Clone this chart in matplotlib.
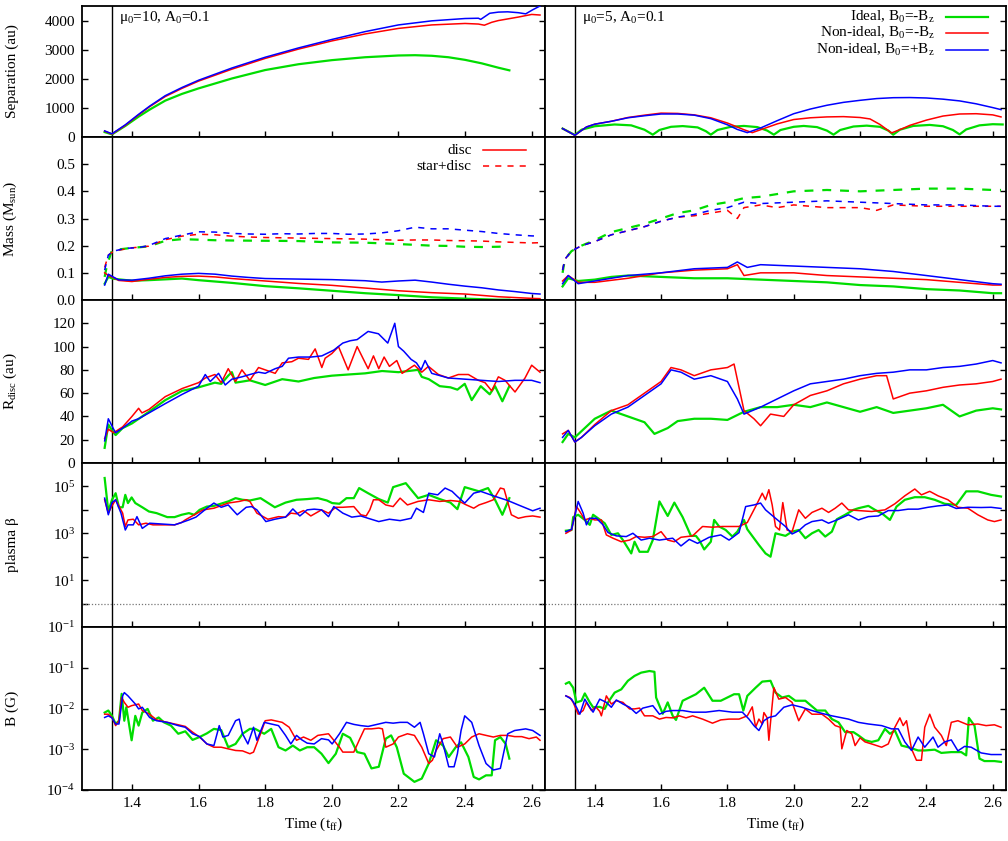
import numpy as np
import matplotlib
matplotlib.use("Agg")
import matplotlib.pyplot as plt
from matplotlib.ticker import FixedLocator, FuncFormatter, NullLocator

plt.rcParams['font.family'] = ['Liberation Serif', 'DejaVu Serif']
plt.rcParams['mathtext.fontset'] = 'custom'
plt.rcParams['mathtext.rm'] = 'Liberation Serif'
plt.rcParams['mathtext.it'] = 'Liberation Serif:italic'
plt.rcParams['mathtext.default'] = 'rm'
plt.rcParams['font.size'] = 11

GREEN, RED, BLUE = '#00dd00', '#ff0000', '#0000ff'

# ---------------------------------------------------------------- separation
# mu0=10 (left column)
t_sepL_i = [1.318, 1.340, 1.38, 1.42, 1.453, 1.5, 1.55, 1.6, 1.7, 1.8, 1.9, 2.0, 2.1,
            2.2, 2.25, 2.3, 2.35, 2.4, 2.45, 2.5, 2.533]
sepL_i = [170, 90, 380, 700, 940, 1250, 1480, 1670, 2010, 2300, 2500, 2640, 2740,
          2800, 2810, 2790, 2740, 2650, 2530, 2380, 2290]
t_sepL_n = [1.318, 1.340, 1.38, 1.42, 1.453, 1.5, 1.55, 1.6, 1.7, 1.8, 1.9, 2.0, 2.1,
            2.2, 2.3, 2.4, 2.44, 2.458, 2.48, 2.5, 2.53, 2.56, 2.6, 2.625]
sepL_n = [200, 100, 400, 760, 1040, 1390, 1670, 1920, 2330, 2700, 3020, 3300, 3540,
          3730, 3850, 3900, 3880, 3840, 3940, 4000, 4060, 4120, 4210, 4190]
t_sepL_p = [1.318, 1.340, 1.38, 1.42, 1.453, 1.5, 1.55, 1.6, 1.7, 1.8, 1.9, 2.0, 2.1,
            2.2, 2.3, 2.4, 2.44, 2.447, 2.474, 2.5, 2.528, 2.56, 2.582, 2.603, 2.625]
sepL_p = [210, 110, 420, 780, 1060, 1420, 1700, 1950, 2370, 2740, 3060, 3350, 3620,
          3850, 3990, 4070, 4080, 4040, 4250, 4290, 4300, 4270, 4230, 4370, 4500]

# mu0=5 (right column)
t_sepR_i = [1.303, 1.34, 1.36, 1.4, 1.46, 1.51, 1.55, 1.575, 1.595, 1.63, 1.665, 1.71,
            1.735, 1.75, 1.77, 1.81, 1.85, 1.89, 1.92, 1.94, 1.96, 2.0, 2.03, 2.07,
            2.1, 2.12, 2.14, 2.18, 2.22, 2.26, 2.285, 2.3, 2.32, 2.36, 2.41, 2.45,
            2.48, 2.5, 2.52, 2.56, 2.6, 2.63]
sepR_i = [290, 70, 250, 370, 430, 400, 250, 80, 240, 350, 375, 330, 200, 80, 240, 350,
          380, 340, 220, 80, 240, 350, 380, 340, 220, 80, 240, 360, 390, 350, 220, 80,
          250, 380, 415, 370, 240, 90, 260, 400, 440, 430]
t_sepR_n = [1.303, 1.34, 1.375, 1.4, 1.45, 1.5, 1.55, 1.6, 1.65, 1.7, 1.75, 1.8, 1.85,
            1.875, 1.9, 1.95, 2.0, 2.05, 2.1, 2.15, 2.2, 2.23, 2.26, 2.295, 2.33, 2.35,
            2.4, 2.45, 2.5, 2.55, 2.6, 2.625]
sepR_n = [290, 60, 345, 440, 540, 670, 750, 820, 810, 760, 660, 480, 250, 150, 250, 450,
          600, 660, 690, 700, 670, 620, 430, 140, 300, 400, 580, 720, 790, 800, 760, 690]
t_sepR_p = [1.303, 1.34, 1.375, 1.4, 1.45, 1.5, 1.55, 1.6, 1.65, 1.7, 1.75, 1.8, 1.83,
            1.86, 1.9, 1.95, 2.0, 2.05, 2.1, 2.15, 2.2, 2.25, 2.3, 2.35, 2.4, 2.45, 2.5,
            2.55, 2.6, 2.625]
sepR_p = [290, 60, 345, 440, 540, 660, 730, 790, 790, 750, 630, 420, 260, 150, 310, 560,
          800, 960, 1090, 1190, 1260, 1320, 1350, 1355, 1340, 1300, 1240, 1140, 1010, 940]

# ---------------------------------------------------------------- mass
# star+disc (dashed)
t_msdL_i = [1.318, 1.325, 1.34, 1.4, 1.45, 1.5, 1.55, 1.6, 1.65, 1.7, 1.8, 1.9, 2.0,
            2.1, 2.2, 2.3, 2.35, 2.4, 2.45, 2.5, 2.533]
msdL_i = [0.085, 0.128, 0.183, 0.192, 0.197, 0.218, 0.224, 0.222, 0.22, 0.219, 0.218,
          0.217, 0.212, 0.211, 0.206, 0.2, 0.199, 0.196, 0.195, 0.196, 0.198]
t_msdL_n = [1.318, 1.329, 1.345, 1.4, 1.45, 1.5, 1.55, 1.6, 1.65, 1.7, 1.75, 1.8, 1.85,
            1.9, 1.95, 2.0, 2.05, 2.1, 2.15, 2.2, 2.25, 2.3, 2.35, 2.4, 2.45, 2.5,
            2.55, 2.6, 2.625]
msdL_n = [0.12, 0.165, 0.18, 0.192, 0.198, 0.222, 0.235, 0.242, 0.24, 0.235, 0.232,
          0.23, 0.229, 0.228, 0.227, 0.226, 0.225, 0.224, 0.222, 0.22, 0.221, 0.221,
          0.219, 0.218, 0.217, 0.214, 0.212, 0.21, 0.211]
t_msdL_p = [1.318, 1.329, 1.345, 1.38, 1.42, 1.45, 1.5, 1.55, 1.6, 1.65, 1.7, 1.75, 1.8,
            1.85, 1.9, 1.95, 2.0, 2.05, 2.1, 2.15, 2.2, 2.25, 2.3, 2.35, 2.4, 2.45,
            2.5, 2.55, 2.6, 2.625]
msdL_p = [0.11, 0.165, 0.18, 0.19, 0.193, 0.2, 0.226, 0.239, 0.251, 0.25, 0.245, 0.243,
          0.242, 0.244, 0.243, 0.245, 0.245, 0.242, 0.243, 0.247, 0.255, 0.268, 0.262,
          0.262, 0.257, 0.252, 0.245, 0.24, 0.236, 0.235]

t_msdR_i = [1.303, 1.31, 1.33, 1.36, 1.4, 1.45, 1.5, 1.55, 1.6, 1.65, 1.7, 1.75, 1.8,
            1.85, 1.9, 1.95, 2.0, 2.1, 2.2, 2.3, 2.4, 2.5, 2.6, 2.625]
msdR_i = [0.1, 0.15, 0.18, 0.2, 0.22, 0.25, 0.265, 0.28, 0.3, 0.32, 0.33, 0.35, 0.36,
          0.375, 0.38, 0.39, 0.4, 0.405, 0.4, 0.405, 0.41, 0.41, 0.405, 0.405]
t_msdR_n = [1.303, 1.31, 1.33, 1.36, 1.4, 1.45, 1.5, 1.55, 1.6, 1.65, 1.7, 1.75, 1.8,
            1.83, 1.85, 1.9, 1.95, 2.0, 2.1, 2.2, 2.25, 2.3, 2.4, 2.5, 2.6, 2.625]
msdR_n = [0.11, 0.15, 0.18, 0.2, 0.215, 0.24, 0.255, 0.27, 0.29, 0.305, 0.31, 0.32,
          0.33, 0.3, 0.34, 0.35, 0.34, 0.35, 0.34, 0.34, 0.33, 0.35, 0.345, 0.345,
          0.345, 0.345]
t_msdR_p = [1.303, 1.31, 1.33, 1.36, 1.4, 1.45, 1.5, 1.55, 1.6, 1.65, 1.7, 1.75, 1.8,
            1.85, 1.9, 2.0, 2.1, 2.2, 2.3, 2.4, 2.5, 2.6, 2.625]
msdR_p = [0.11, 0.15, 0.18, 0.2, 0.215, 0.24, 0.255, 0.27, 0.29, 0.305, 0.315, 0.33,
          0.34, 0.36, 0.355, 0.36, 0.365, 0.36, 0.355, 0.35, 0.35, 0.345, 0.345]

# disc only (solid)
t_mdL_i = [1.318, 1.329, 1.345, 1.4, 1.45, 1.5, 1.55, 1.6, 1.7, 1.8, 1.9, 2.0, 2.1,
           2.2, 2.3, 2.4, 2.5, 2.533]
mdL_i = [0.06, 0.085, 0.078, 0.071, 0.073, 0.076, 0.079, 0.073, 0.063, 0.051, 0.043,
         0.034, 0.025, 0.018, 0.01, 0.005, 0.001, 0.001]
t_mdL_n = [1.318, 1.329, 1.345, 1.36, 1.4, 1.45, 1.5, 1.55, 1.6, 1.65, 1.7, 1.8, 1.9,
           2.0, 2.1, 2.2, 2.3, 2.4, 2.5, 2.6, 2.625]
mdL_n = [0.1, 0.09, 0.082, 0.072, 0.068, 0.076, 0.083, 0.087, 0.088, 0.085, 0.079,
         0.07, 0.061, 0.054, 0.044, 0.034, 0.027, 0.022, 0.012, 0.006, 0.005]
t_mdL_p = [1.318, 1.329, 1.345, 1.36, 1.4, 1.45, 1.5, 1.55, 1.6, 1.65, 1.7, 1.75, 1.8,
           1.9, 2.0, 2.1, 2.15, 2.2, 2.25, 2.3, 2.35, 2.4, 2.45, 2.5, 2.55, 2.6, 2.625]
mdL_p = [0.055, 0.095, 0.084, 0.074, 0.073, 0.08, 0.089, 0.095, 0.098, 0.095, 0.088,
         0.083, 0.079, 0.077, 0.075, 0.071, 0.066, 0.07, 0.073, 0.066, 0.058, 0.051,
         0.045, 0.037, 0.031, 0.024, 0.022]

t_mdR_i = [1.303, 1.32, 1.35, 1.4, 1.45, 1.5, 1.6, 1.7, 1.8, 1.9, 2.0, 2.1, 2.2, 2.3,
           2.4, 2.5, 2.6, 2.625]
mdR_i = [0.05, 0.08, 0.07, 0.075, 0.085, 0.09, 0.085, 0.08, 0.08, 0.075, 0.07, 0.065,
         0.055, 0.05, 0.04, 0.035, 0.025, 0.025]
t_mdR_n = [1.303, 1.32, 1.35, 1.4, 1.5, 1.6, 1.7, 1.8, 1.83, 1.85, 1.9, 2.0, 2.1, 2.2,
           2.3, 2.4, 2.5, 2.6, 2.625]
mdR_n = [0.07, 0.09, 0.065, 0.065, 0.08, 0.1, 0.11, 0.115, 0.13, 0.09, 0.1, 0.1, 0.09,
         0.085, 0.08, 0.075, 0.065, 0.055, 0.055]
t_mdR_p = [1.303, 1.32, 1.35, 1.4, 1.5, 1.6, 1.7, 1.8, 1.83, 1.86, 1.9, 2.0, 2.1, 2.2,
           2.3, 2.4, 2.5, 2.6, 2.625]
mdR_p = [0.06, 0.09, 0.06, 0.07, 0.09, 0.1, 0.115, 0.12, 0.14, 0.12, 0.13, 0.125, 0.12,
         0.115, 0.105, 0.09, 0.075, 0.06, 0.058]

# ---------------------------------------------------------------- disc radius
t_rdL_i = [1.318, 1.329, 1.345, 1.351, 1.372, 1.4, 1.451, 1.5, 1.551, 1.6, 1.649, 1.668,
           1.689, 1.7, 1.711, 1.754, 1.8, 1.851, 1.9, 1.947, 2.0, 2.049, 2.1, 2.151,
           2.2, 2.259, 2.27, 2.291, 2.324, 2.356, 2.377, 2.399, 2.42, 2.447, 2.474,
           2.49, 2.512, 2.533]
rdL_i = [13, 33, 26, 24, 30, 34, 44, 54, 62, 65, 69, 68, 75, 78, 69, 71, 67, 72, 70, 73,
         75, 76, 77, 79, 78, 80, 74, 72, 66, 65, 63, 68, 54, 66, 59, 66, 53, 66]
t_rdL_n = [1.318, 1.329, 1.345, 1.372, 1.4, 1.42, 1.43, 1.451, 1.5, 1.551, 1.6, 1.62,
           1.649, 1.668, 1.689, 1.711, 1.73, 1.754, 1.78, 1.8, 1.83, 1.851, 1.88, 1.9,
           1.93, 1.95, 1.97, 1.98, 2.0, 2.02, 2.049, 2.076, 2.109, 2.125, 2.141, 2.157,
           2.173, 2.195, 2.211, 2.248, 2.27, 2.29, 2.32, 2.35, 2.38, 2.41, 2.44, 2.46,
           2.48, 2.5, 2.52, 2.55, 2.58, 2.6, 2.625]
rdL_n = [21, 29, 26, 31, 40, 47, 43, 46, 57, 64, 69, 73, 76, 69, 81, 70, 80, 71, 82, 80,
         77, 86, 87, 90, 89, 98, 82, 90, 94, 100, 80, 100, 81, 92, 81, 91, 83, 88, 77,
         84, 78, 83, 76, 73, 76, 76, 71, 69, 62, 74, 71, 61, 73, 84, 78]
t_rdL_p = [1.318, 1.329, 1.345, 1.351, 1.372, 1.4, 1.42, 1.451, 1.5, 1.551, 1.6, 1.62,
           1.635, 1.66, 1.68, 1.7, 1.73, 1.754, 1.78, 1.8, 1.83, 1.851, 1.87, 1.9, 1.937,
           1.97, 2.006, 2.033, 2.055, 2.076, 2.109, 2.14, 2.168, 2.189, 2.2, 2.216,
           2.238, 2.254, 2.268, 2.28, 2.3, 2.35, 2.4, 2.45, 2.5, 2.55, 2.6, 2.625]
rdL_p = [19, 38, 29, 26, 30, 36, 38, 43, 51, 59, 66, 76, 70, 77, 67, 72, 74, 76, 78, 77,
         81, 83, 90, 91, 91, 92, 97, 103, 105, 106, 113, 111, 103, 120, 100, 96, 89, 86,
         80, 88, 77, 73, 72, 71, 70, 71, 71, 69]

t_rdR_i = [1.303, 1.32, 1.34, 1.4, 1.45, 1.5, 1.55, 1.58, 1.62, 1.65, 1.7, 1.75, 1.8,
           1.85, 1.9, 1.95, 2.0, 2.05, 2.1, 2.15, 2.2, 2.25, 2.3, 2.35, 2.4, 2.45, 2.5,
           2.55, 2.6, 2.625]
rdR_i = [18, 25, 22, 38, 45, 40, 35, 25, 30, 36, 38, 38, 37, 44, 48, 48, 50, 48, 52, 48,
         44, 48, 43, 45, 47, 50, 40, 45, 47, 46]
t_rdR_n = [1.303, 1.32, 1.34, 1.36, 1.4, 1.45, 1.5, 1.55, 1.6, 1.63, 1.66, 1.7, 1.75,
           1.8, 1.82, 1.85, 1.88, 1.9, 1.93, 1.97, 2.0, 2.05, 2.1, 2.15, 2.2, 2.25,
           2.28, 2.3, 2.35, 2.4, 2.45, 2.5, 2.55, 2.6, 2.625]
rdR_n = [25, 28, 18, 22, 33, 45, 50, 60, 70, 82, 80, 75, 80, 82, 85, 45, 38, 32, 42, 40,
         50, 58, 62, 68, 72, 75, 75, 55, 60, 62, 65, 67, 68, 70, 72]
t_rdR_p = [1.303, 1.32, 1.34, 1.36, 1.4, 1.45, 1.5, 1.55, 1.6, 1.63, 1.66, 1.7, 1.75,
           1.8, 1.83, 1.85, 1.9, 1.95, 2.0, 2.05, 2.1, 2.15, 2.2, 2.25, 2.3, 2.35, 2.4,
           2.45, 2.5, 2.55, 2.6, 2.625]
rdR_p = [22, 28, 18, 22, 32, 42, 48, 58, 68, 80, 78, 72, 75, 70, 55, 42, 48, 55, 62, 68,
         70, 72, 75, 77, 78, 80, 80, 82, 83, 85, 88, 86]

# ---------------------------------------------------------------- plasma beta (log10)
t_bL_i = [1.318, 1.329, 1.340, 1.351, 1.361, 1.372, 1.380, 1.388, 1.399, 1.410, 1.431,
          1.451, 1.474, 1.506, 1.528, 1.549, 1.571, 1.587, 1.603, 1.625, 1.646, 1.689,
          1.711, 1.732, 1.754, 1.786, 1.829, 1.861, 1.894, 1.926, 1.958, 1.985, 2.001,
          2.023, 2.044, 2.066, 2.082, 2.109, 2.141, 2.168, 2.184, 2.222, 2.259, 2.291,
          2.324, 2.356, 2.377, 2.399, 2.442, 2.469, 2.490, 2.512, 2.533]
logbetaL_i = [5.36, 3.93, 4.43, 4.71, 4.11, 4.11, 4.64, 4.29, 4.53, 4.29, 4.11, 3.93,
              3.86, 3.69, 3.69, 3.79, 3.86, 3.79, 4.0, 4.14, 4.17, 4.36, 4.5, 4.43, 4.4,
              4.5, 4.11, 4.31, 4.43, 4.46, 4.5, 4.4, 4.29, 4.26, 4.5, 4.5, 4.93, 4.71,
              4.46, 4.31, 4.97, 5.14, 4.5, 4.64, 4.46, 4.31, 4.03, 4.97, 4.79, 4.93,
              4.43, 3.79, 4.5]
t_bL_n = [1.318, 1.329, 1.340, 1.351, 1.372, 1.380, 1.388, 1.404, 1.420, 1.442, 1.463,
          1.496, 1.528, 1.549, 1.560, 1.587, 1.614, 1.646, 1.689, 1.722, 1.743, 1.754,
          1.775, 1.808, 1.840, 1.861, 1.877, 1.894, 1.915, 1.937, 1.969, 1.990, 2.012,
          2.033, 2.066, 2.087, 2.103, 2.114, 2.125, 2.141, 2.162, 2.184, 2.205, 2.227,
          2.259, 2.291, 2.324, 2.356, 2.383, 2.404, 2.426, 2.442, 2.463, 2.485, 2.506,
          2.517, 2.539, 2.560, 2.582, 2.603, 2.625]
logbetaL_n = [4.43, 3.86, 4.17, 4.43, 3.86, 3.29, 3.57, 3.6, 3.36, 3.43, 3.36, 3.36,
              3.36, 3.46, 3.57, 3.79, 4.0, 4.07, 4.29, 4.36, 4.43, 4.36, 3.86, 3.6,
              3.71, 3.69, 3.86, 3.83, 3.97, 3.74, 4.0, 3.86, 4.11, 4.11, 4.14, 3.79,
              3.74, 4.0, 4.43, 4.43, 4.21, 4.14, 4.5, 4.21, 4.36, 4.43, 4.36, 4.4, 4.36,
              4.21, 4.07, 4.21, 4.31, 4.43, 4.93, 4.89, 3.79, 3.64, 3.71, 3.74, 3.69]
t_bL_p = [1.318, 1.329, 1.340, 1.351, 1.367, 1.380, 1.388, 1.404, 1.415, 1.431, 1.453,
          1.485, 1.528, 1.549, 1.571, 1.592, 1.625, 1.646, 1.668, 1.689, 1.716, 1.743,
          1.759, 1.775, 1.802, 1.829, 1.861, 1.883, 1.904, 1.926, 1.947, 1.969, 1.990,
          2.006, 2.033, 2.060, 2.087, 2.109, 2.141, 2.173, 2.205, 2.238, 2.254, 2.275,
          2.291, 2.318, 2.340, 2.361, 2.377, 2.399, 2.426, 2.447, 2.485, 2.528, 2.560,
          2.603, 2.625]
logbetaL_p = [4.5, 3.79, 4.31, 4.43, 3.86, 3.14, 3.36, 3.36, 3.71, 3.21, 3.43, 3.4, 3.36,
              3.46, 3.57, 3.69, 4.07, 4.29, 4.11, 4.21, 3.79, 4.11, 4.14, 4.0, 3.5, 3.6,
              3.69, 4.04, 3.74, 4.0, 4.03, 4.0, 3.71, 4.14, 3.86, 3.69, 3.74, 3.64, 3.5,
              3.6, 3.54, 3.64, 4.07, 3.89, 4.71, 4.64, 4.93, 4.79, 4.57, 4.29, 4.71,
              4.79, 4.6, 4.4, 4.21, 3.96, 4.07]

t_bR_i = [1.313, 1.330, 1.335, 1.350, 1.370, 1.385, 1.395, 1.410, 1.430, 1.450, 1.470,
          1.485, 1.510, 1.520, 1.535, 1.560, 1.575, 1.595, 1.620, 1.640, 1.665, 1.690,
          1.705, 1.715, 1.730, 1.750, 1.760, 1.775, 1.795, 1.815, 1.830, 1.850, 1.860,
          1.895, 1.915, 1.930, 1.945, 1.975, 1.995, 2.015, 2.035, 2.055, 2.075, 2.095,
          2.115, 2.130, 2.155, 2.180, 2.195, 2.225, 2.245, 2.265, 2.290, 2.310, 2.335,
          2.365, 2.395, 2.425, 2.455, 2.490, 2.520, 2.555, 2.595, 2.625]
logbetaR_i = [3.11, 3.14, 3.69, 3.79, 3.57, 3.36, 3.79, 3.64, 3.43, 2.93, 3.0, 2.71,
              2.14, 2.64, 2.21, 2.21, 2.71, 4.36, 3.74, 4.31, 3.69, 2.89, 2.89, 2.71,
              2.31, 2.64, 3.57, 3.29, 3.14, 2.86, 3.07, 3.57, 3.17, 2.5, 2.14, 2.0, 3.0,
              2.89, 3.07, 3.14, 2.79, 3.0, 3.14, 2.86, 3.07, 3.6, 3.79, 4.0, 4.07, 4.17,
              4.0, 3.86, 3.57, 4.14, 4.43, 4.54, 4.54, 4.43, 4.26, 4.21, 4.79, 4.79,
              4.64, 4.57]
t_bR_n = [1.313, 1.330, 1.345, 1.355, 1.370, 1.385, 1.400, 1.420, 1.435, 1.455, 1.480,
          1.505, 1.525, 1.550, 1.575, 1.600, 1.620, 1.640, 1.660, 1.695, 1.725, 1.755,
          1.785, 1.835, 1.860, 1.885, 1.905, 1.915, 1.925, 1.935, 1.945, 1.957, 1.967,
          1.980, 1.995, 2.015, 2.035, 2.055, 2.085, 2.105, 2.125, 2.145, 2.165, 2.195,
          2.235, 2.275, 2.305, 2.335, 2.365, 2.385, 2.410, 2.435, 2.465, 2.495, 2.525,
          2.555, 2.585, 2.605, 2.625]
logbetaR_n = [3.0, 3.14, 4.14, 3.93, 3.57, 3.64, 3.57, 3.57, 2.93, 2.79, 2.64, 2.71,
              2.86, 2.83, 2.86, 3.07, 2.71, 2.64, 2.83, 2.89, 3.29, 3.26, 3.29, 3.29,
              3.46, 4.14, 4.71, 4.43, 4.86, 4.21, 3.29, 3.14, 4.31, 3.14, 3.07, 4.0,
              3.64, 3.89, 4.07, 3.89, 4.07, 4.29, 4.0, 3.97, 3.93, 4.0, 4.26, 4.6, 4.89,
              4.64, 4.79, 4.6, 4.43, 4.11, 4.07, 3.79, 3.57, 3.5, 3.57]
t_bR_p = [1.313, 1.330, 1.350, 1.365, 1.375, 1.385, 1.405, 1.425, 1.440, 1.465, 1.495,
          1.515, 1.540, 1.565, 1.595, 1.635, 1.660, 1.685, 1.710, 1.745, 1.780, 1.805,
          1.835, 1.855, 1.880, 1.900, 1.915, 1.945, 1.975, 1.995, 2.015, 2.035, 2.055,
          2.085, 2.105, 2.135, 2.165, 2.195, 2.225, 2.255, 2.285, 2.315, 2.345, 2.375,
          2.405, 2.435, 2.465, 2.490, 2.525, 2.565, 2.595, 2.625]
logbetaR_p = [3.07, 3.17, 4.36, 3.86, 3.36, 3.64, 3.64, 3.36, 3.03, 2.89, 2.86, 3.0,
              2.71, 2.79, 2.71, 2.79, 2.46, 2.74, 2.57, 2.83, 2.93, 2.71, 3.03, 4.14,
              4.21, 4.29, 4.0, 3.64, 3.29, 2.97, 3.11, 3.36, 3.5, 3.57, 3.43, 3.6, 3.79,
              3.57, 3.71, 3.74, 3.97, 3.97, 4.03, 4.03, 4.11, 4.17, 4.21, 4.06, 4.11,
              4.1, 4.11, 4.06]

# ---------------------------------------------------------------- field strength (log10 G)
t_BL_i = [1.318, 1.329, 1.340, 1.351, 1.361, 1.369, 1.377, 1.383, 1.399, 1.410, 1.420,
          1.431, 1.447, 1.463, 1.480, 1.496, 1.517, 1.539, 1.560, 1.582, 1.603, 1.625,
          1.646, 1.668, 1.689, 1.711, 1.732, 1.754, 1.770, 1.797, 1.818, 1.840, 1.861,
          1.883, 1.904, 1.926, 1.947, 1.969, 1.990, 2.012, 2.033, 2.055, 2.076, 2.098,
          2.119, 2.141, 2.162, 2.178, 2.195, 2.216, 2.248, 2.270, 2.291, 2.313, 2.334,
          2.351, 2.372, 2.388, 2.410, 2.426, 2.442, 2.463, 2.480, 2.490, 2.506, 2.522,
          2.533]
logBL_i = [-2.1, -2.05, -2.18, -2.38, -2.3, -1.64, -2.3, -1.97, -2.78, -2.18, -2.42,
           -2.1, -2.01, -2.3, -2.22, -2.34, -2.42, -2.62, -2.56, -2.77, -2.7, -2.61,
           -2.5, -2.53, -2.95, -2.87, -2.62, -2.5, -2.5, -2.62, -2.5, -2.95, -3.03,
           -2.91, -3.03, -2.95, -2.95, -3.11, -3.34, -3.11, -2.62, -2.72, -3.07, -3.11,
           -3.47, -3.43, -2.74, -2.66, -2.95, -3.6, -3.8, -3.72, -3.35, -2.78, -2.91,
           -3.19, -2.95, -2.83, -3.19, -3.68, -3.74, -3.64, -3.64, -2.78, -2.7, -2.87,
           -3.23]
t_BL_n = [1.318, 1.329, 1.340, 1.351, 1.361, 1.369, 1.377, 1.388, 1.399, 1.420, 1.431,
          1.453, 1.474, 1.506, 1.539, 1.560, 1.582, 1.603, 1.625, 1.646, 1.668, 1.689,
          1.711, 1.732, 1.754, 1.765, 1.786, 1.800, 1.818, 1.851, 1.872, 1.894, 1.915,
          1.937, 1.958, 1.990, 2.023, 2.033, 2.066, 2.082, 2.098, 2.119, 2.141, 2.152,
          2.162, 2.184, 2.200, 2.227, 2.248, 2.270, 2.291, 2.302, 2.313, 2.334, 2.356,
          2.377, 2.399, 2.420, 2.442, 2.463, 2.485, 2.506, 2.528, 2.549, 2.570, 2.592,
          2.614, 2.625]
logBL_n = [-2.14, -2.14, -2.22, -2.42, -2.3, -1.73, -1.85, -1.97, -1.93, -1.89, -2.05,
           -2.14, -2.28, -2.34, -2.4, -2.44, -2.58, -2.7, -2.87, -2.95, -2.95, -2.99,
           -3.03, -3.04, -3.11, -3.07, -2.62, -2.3, -2.28, -2.34, -2.46, -2.78, -2.7,
           -2.78, -2.66, -2.62, -2.95, -3.07, -3.07, -2.78, -2.5, -2.5, -2.48, -2.5,
           -2.95, -2.87, -2.7, -2.62, -2.66, -2.95, -3.35, -3.27, -3.03, -2.74, -2.7,
           -2.95, -2.87, -2.7, -2.62, -2.66, -2.7, -2.66, -2.66, -2.69, -2.69, -2.74,
           -2.7, -2.78]
t_BL_p = [1.318, 1.329, 1.340, 1.351, 1.361, 1.372, 1.377, 1.388, 1.410, 1.420, 1.431,
          1.453, 1.474, 1.506, 1.539, 1.560, 1.582, 1.603, 1.625, 1.646, 1.662, 1.673,
          1.689, 1.711, 1.722, 1.732, 1.748, 1.765, 1.775, 1.797, 1.818, 1.840, 1.861,
          1.877, 1.894, 1.910, 1.926, 1.947, 1.969, 1.990, 2.001, 2.023, 2.044, 2.066,
          2.087, 2.109, 2.141, 2.162, 2.184, 2.205, 2.227, 2.248, 2.265, 2.275, 2.291,
          2.308, 2.324, 2.334, 2.351, 2.367, 2.377, 2.388, 2.399, 2.420, 2.442, 2.463,
          2.485, 2.506, 2.528, 2.549, 2.582, 2.603, 2.625]
logBL_p = [-2.22, -2.18, -2.23, -2.38, -2.38, -1.69, -1.61, -1.69, -1.89, -2.01, -1.97,
           -2.22, -2.3, -2.34, -2.42, -2.46, -2.62, -2.69, -2.87, -2.91, -2.42, -2.7,
           -2.66, -2.3, -2.26, -2.62, -2.87, -2.46, -2.78, -2.34, -2.38, -2.42, -2.66,
           -2.87, -2.66, -2.77, -2.85, -2.87, -2.74, -2.77, -2.87, -2.62, -2.34, -2.39,
           -2.42, -2.44, -2.38, -2.34, -2.36, -2.34, -2.34, -2.46, -2.34, -2.62, -3.11,
           -3.19, -2.62, -2.87, -3.43, -3.43, -3.11, -2.54, -2.18, -2.34, -2.91, -3.35,
           -3.51, -3.47, -2.62, -2.54, -2.5, -2.54, -2.66]

t_BR_i = [1.313, 1.323, 1.335, 1.345, 1.360, 1.370, 1.385, 1.395, 1.415, 1.430, 1.440,
          1.460, 1.480, 1.500, 1.520, 1.540, 1.565, 1.580, 1.585, 1.605, 1.620, 1.635,
          1.645, 1.665, 1.685, 1.705, 1.730, 1.755, 1.780, 1.800, 1.820, 1.835, 1.848,
          1.860, 1.885, 1.905, 1.930, 1.945, 1.965, 1.985, 2.005, 2.035, 2.070, 2.095,
          2.115, 2.135, 2.155, 2.180, 2.195, 2.215, 2.235, 2.255, 2.275, 2.290, 2.305,
          2.325, 2.345, 2.375, 2.395, 2.425, 2.445, 2.475, 2.505, 2.520, 2.528, 2.545,
          2.560, 2.575, 2.605, 2.625]
logBR_i = [-1.39, -1.35, -1.49, -1.85, -1.81, -1.63, -1.85, -1.97, -1.96, -2.01, -1.85,
           -1.61, -1.53, -1.32, -1.2, -1.12, -1.08, -1.1, -1.73, -2.13, -1.85, -2.18,
           -2.28, -1.81, -1.73, -1.65, -1.49, -1.81, -1.81, -1.73, -1.65, -1.65, -2.05,
           -1.69, -1.49, -1.34, -1.32, -1.61, -1.73, -1.69, -1.81, -1.81, -2.05, -2.05,
           -2.26, -2.34, -2.58, -2.58, -2.66, -2.78, -2.82, -2.78, -2.5, -2.62, -2.54,
           -2.91, -2.95, -3.03, -3.03, -3.01, -3.09, -3.07, -3.07, -3.15, -2.23, -2.42,
           -3.23, -3.29, -3.29, -3.31]
t_BR_n = [1.313, 1.325, 1.335, 1.350, 1.365, 1.375, 1.390, 1.403, 1.415, 1.420, 1.435,
          1.450, 1.465, 1.485, 1.505, 1.520, 1.535, 1.550, 1.575, 1.595, 1.615, 1.635,
          1.655, 1.675, 1.695, 1.725, 1.755, 1.780, 1.805, 1.835, 1.860, 1.875, 1.885,
          1.895, 1.905, 1.910, 1.920, 1.925, 1.930, 1.940, 1.955, 1.975, 1.995, 2.015,
          2.035, 2.055, 2.085, 2.105, 2.125, 2.140, 2.145, 2.160, 2.175, 2.185, 2.200,
          2.215, 2.235, 2.265, 2.285, 2.305, 2.320, 2.330, 2.340, 2.355, 2.370, 2.385,
          2.395, 2.410, 2.425, 2.445, 2.460, 2.475, 2.495, 2.525, 2.555, 2.580, 2.605,
          2.625]
logBR_n = [-1.69, -1.73, -1.85, -2.14, -2.05, -1.85, -2.05, -1.96, -2.07, -2.18, -1.69,
           -1.89, -1.81, -1.85, -2.01, -2.01, -1.99, -2.18, -2.18, -2.26, -2.22, -2.23,
           -2.18, -2.23, -2.18, -2.26, -2.36, -2.28, -2.26, -2.26, -2.18, -1.96, -2.46,
           -2.26, -2.38, -2.1, -2.23, -2.78, -2.34, -1.49, -1.77, -1.73, -1.85, -2.3,
           -2.01, -2.14, -2.14, -2.26, -2.42, -2.46, -2.99, -2.54, -2.62, -2.91, -2.72,
           -2.82, -2.87, -2.95, -2.87, -2.46, -2.23, -2.42, -2.3, -2.99, -3.27, -3.27,
           -2.46, -2.14, -2.46, -2.66, -2.91, -2.34, -2.3, -2.4, -2.38, -2.42, -2.4,
           -2.46]
t_BR_p = [1.313, 1.330, 1.345, 1.355, 1.370, 1.385, 1.395, 1.415, 1.435, 1.450, 1.465,
          1.485, 1.505, 1.525, 1.545, 1.575, 1.595, 1.615, 1.635, 1.665, 1.695, 1.735,
          1.775, 1.815, 1.845, 1.865, 1.880, 1.895, 1.910, 1.925, 1.945, 1.970, 1.995,
          2.025, 2.055, 2.085, 2.115, 2.140, 2.165, 2.195, 2.225, 2.265, 2.295, 2.315,
          2.335, 2.355, 2.375, 2.395, 2.420, 2.435, 2.455, 2.475, 2.495, 2.515, 2.535,
          2.565, 2.595, 2.625]
logBR_p = [-1.69, -1.77, -1.97, -2.14, -1.77, -1.97, -2.09, -1.77, -1.85, -1.97, -1.79,
           -1.89, -1.97, -2.12, -1.99, -1.93, -2.14, -2.07, -2.05, -2.05, -2.09, -2.09,
           -2.05, -2.09, -2.09, -2.26, -2.42, -2.54, -2.3, -2.22, -2.18, -1.97, -1.91,
           -1.97, -2.05, -2.12, -2.18, -2.22, -2.26, -2.34, -2.38, -2.42, -2.5, -2.5,
           -2.82, -3.03, -2.7, -2.95, -2.7, -2.95, -2.82, -2.77, -3.04, -2.93, -2.95,
           -3.09, -3.13, -3.13]

T_LO, T_HI = 1.25, 2.64
T_MARK = 1.34
xticks = [1.4, 1.6, 1.8, 2.0, 2.2, 2.4, 2.6]

fig = plt.figure(figsize=(10.08, 8.41), dpi=100)
W, H = 1008.0, 841.0
col_x = [(82, 463), (545, 461)]
row_y = [(6, 137), (137, 300), (300, 463), (463, 627), (627, 790)]

axes = []
for r, (top, bot) in enumerate(row_y):
    row = []
    for c, (x0, w) in enumerate(col_x):
        ax = fig.add_axes([x0 / W, 1 - bot / H, w / W, (bot - top) / H])
        row.append(ax)
    axes.append(row)


def style(ax, col, row):
    ax.set_xlim(T_LO, T_HI)
    ax.xaxis.set_major_locator(FixedLocator(xticks))
    ax.xaxis.set_minor_locator(NullLocator())
    ax.tick_params(axis='both', which='both', direction='in', length=4, width=1,
                   top=False, bottom=True, right=True, left=(col == 0),
                   labelsize=11, pad=5)
    ax.tick_params(axis='y', which='minor', length=0)
    if row < 4:
        ax.tick_params(labelbottom=False)
    else:
        ax.xaxis.set_major_formatter(FuncFormatter(lambda v, p: '%.1f' % v))
        ax.set_xlabel('Time (t$_{ff}$)', fontsize=11, labelpad=4)
    if col == 1:
        ax.tick_params(labelleft=False)
    for s in ax.spines.values():
        s.set_linewidth(1.3)
    ax.axvline(T_MARK, color='black', lw=1.0, zorder=1)


def draw(ax, t, y, color, ls='-', lw=1.1):
    ax.plot(t, y, color=color, ls=ls, lw=lw, zorder=3)


lw_green = 1.6

# row 1: separation
for ax, data in zip(axes[0], [(t_sepL_i, sepL_i, t_sepL_n, sepL_n, t_sepL_p, sepL_p),
                              (t_sepR_i, sepR_i, t_sepR_n, sepR_n, t_sepR_p, sepR_p)]):
    draw(ax, data[0], data[1], GREEN, lw=lw_green)
    draw(ax, data[2], data[3], RED)
    draw(ax, data[4], data[5], BLUE)
    ax.set_ylim(0, 4500)
    ax.yaxis.set_major_locator(FixedLocator([0, 1000, 2000, 3000, 4000]))

# row 2: mass
mass_sets = [
    (t_msdL_i, msdL_i, t_msdL_n, msdL_n, t_msdL_p, msdL_p,
     t_mdL_i, mdL_i, t_mdL_n, mdL_n, t_mdL_p, mdL_p),
    (t_msdR_i, msdR_i, t_msdR_n, msdR_n, t_msdR_p, msdR_p,
     t_mdR_i, mdR_i, t_mdR_n, mdR_n, t_mdR_p, mdR_p),
]
for ax, d in zip(axes[1], mass_sets):
    draw(ax, d[0], d[1], GREEN, ls=(0, (4, 4)), lw=lw_green)
    draw(ax, d[2], d[3], RED, ls=(0, (4, 4)))
    draw(ax, d[4], d[5], BLUE, ls=(0, (4, 4)))
    draw(ax, d[6], d[7], GREEN, lw=lw_green)
    draw(ax, d[8], d[9], RED)
    draw(ax, d[10], d[11], BLUE)
    ax.set_ylim(0, 0.6)
    ax.yaxis.set_major_locator(FixedLocator([0.0, 0.1, 0.2, 0.3, 0.4, 0.5]))
    ax.yaxis.set_major_formatter(FuncFormatter(lambda v, p: '%.1f' % v))

# row 3: disc radius
for ax, d in zip(axes[2], [(t_rdL_i, rdL_i, t_rdL_n, rdL_n, t_rdL_p, rdL_p),
                           (t_rdR_i, rdR_i, t_rdR_n, rdR_n, t_rdR_p, rdR_p)]):
    draw(ax, d[0], d[1], GREEN, lw=lw_green)
    draw(ax, d[2], d[3], RED)
    draw(ax, d[4], d[5], BLUE)
    ax.set_ylim(0, 140)
    ax.yaxis.set_major_locator(FixedLocator([0, 20, 40, 60, 80, 100, 120]))


def pow10(v, p):
    return '$10^{%d}$' % int(round(np.log10(v)))


# row 4: plasma beta
for ax, d in zip(axes[3], [(t_bL_i, logbetaL_i, t_bL_n, logbetaL_n, t_bL_p, logbetaL_p),
                           (t_bR_i, logbetaR_i, t_bR_n, logbetaR_n, t_bR_p, logbetaR_p)]):
    ax.set_yscale('log')
    draw(ax, d[0], np.power(10.0, d[1]), GREEN, lw=lw_green)
    draw(ax, d[2], np.power(10.0, d[3]), RED)
    draw(ax, d[4], np.power(10.0, d[5]), BLUE)
    ax.axhline(1.0, color='#777777', lw=0.9, ls=(0, (1, 1.5)), zorder=2)
    ax.set_ylim(0.1, 1e6)
    ax.yaxis.set_major_locator(FixedLocator([1e-1, 1e0, 1e1, 1e2, 1e3, 1e4, 1e5]))
    ax.yaxis.set_minor_locator(NullLocator())
    ax.yaxis.set_major_formatter(
        FuncFormatter(lambda v, p: pow10(v, p) if int(round(np.log10(v))) % 2 else ''))

# row 5: field strength
for ax, d in zip(axes[4], [(t_BL_i, logBL_i, t_BL_n, logBL_n, t_BL_p, logBL_p),
                           (t_BR_i, logBR_i, t_BR_n, logBR_n, t_BR_p, logBR_p)]):
    ax.set_yscale('log')
    draw(ax, d[0], np.power(10.0, d[1]), GREEN, lw=lw_green)
    draw(ax, d[2], np.power(10.0, d[3]), RED)
    draw(ax, d[4], np.power(10.0, d[5]), BLUE)
    ax.set_ylim(1e-4, 1.0)
    ax.yaxis.set_major_locator(FixedLocator([1e-4, 1e-3, 1e-2, 1e-1]))
    ax.yaxis.set_minor_locator(NullLocator())
    ax.yaxis.set_major_formatter(FuncFormatter(pow10))

for r in range(5):
    for c in range(2):
        style(axes[r][c], c, r)

ylabels = ['Separation (au)', 'Mass (M$_{sun}$)', 'R$_{disc}$ (au)',
           'plasma β', 'B (G)']
for r, lab in enumerate(ylabels):
    axes[r][0].set_ylabel(lab, fontsize=11)
    axes[r][0].yaxis.set_label_coords(-0.135, 0.5)

axes[0][0].text(0.08, 0.915, 'μ$_0$=10, A$_0$=0.1', transform=axes[0][0].transAxes,
                ha='left', va='center', fontsize=11)
axes[0][1].text(0.08, 0.915, 'μ$_0$=5, A$_0$=0.1', transform=axes[0][1].transAxes,
                ha='left', va='center', fontsize=11)

# key for the three runs (top right panel)
key_labels = ['Ideal, B$_0$=-B$_z$', 'Non-ideal, B$_0$=-B$_z$', 'Non-ideal, B$_0$=+B$_z$']
key_colors = [GREEN, RED, BLUE]
key_lw = [lw_green, 1.1, 1.1]
axk = axes[0][1]
for i, (lab, col, lw) in enumerate(zip(key_labels, key_colors, key_lw)):
    yy = 0.918 - i * 0.127
    axk.text(0.846, yy, lab, transform=axk.transAxes, ha='right', va='center',
             fontsize=11)
    axk.plot([0.87, 0.96], [yy, yy], transform=axk.transAxes, color=col, lw=lw)

# key for the line styles (mass panel)
axm = axes[1][0]
for i, (lab, ls) in enumerate(zip(['disc', 'star+disc'], ['-', (0, (4, 4))])):
    yy = 0.92 - i * 0.1
    axm.text(0.842, yy, lab, transform=axm.transAxes, ha='right', va='center',
             fontsize=11)
    axm.plot([0.867, 0.96], [yy, yy], transform=axm.transAxes, color=RED, lw=1.1, ls=ls)

fig.savefig('out.png', dpi=100)
